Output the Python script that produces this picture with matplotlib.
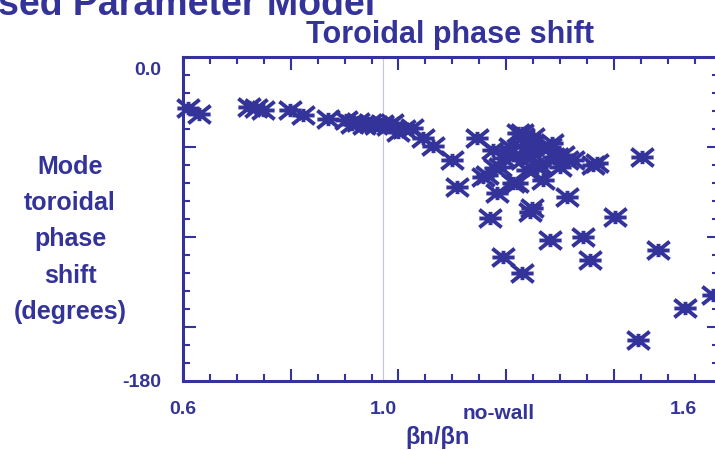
import numpy as np
import matplotlib
matplotlib.use('Agg')
import matplotlib.pyplot as plt
from matplotlib.path import Path
from matplotlib.ticker import FixedLocator, NullFormatter
import matplotlib.transforms as mtransforms

plt.rcParams['font.family'] = ['Liberation Sans Narrow', 'Liberation Sans', 'DejaVu Sans']
plt.rcParams['font.weight'] = 'bold'

# beta_n / beta_n(no-wall) and mode toroidal phase shift (deg)
beta_ratio = [0.610, 0.632, 0.732, 0.746, 0.760, 0.814, 0.840, 0.890, 0.926, 0.938,
              0.950, 0.962, 0.974, 0.986, 0.998, 1.010, 1.018, 1.030, 1.042, 1.058,
              1.080, 1.100, 1.138, 1.148, 1.188,
              1.220, 1.224, 1.200, 1.208, 1.234, 1.228, 1.240, 1.254, 1.254, 1.260,
              1.268, 1.270, 1.278, 1.278, 1.280, 1.288, 1.288, 1.294, 1.300, 1.300,
              1.308, 1.314, 1.320, 1.320, 1.334, 1.338, 1.340, 1.348, 1.354, 1.360,
              1.368, 1.368, 1.380, 1.420, 1.428,
              1.518, 1.214, 1.294, 1.298, 1.464, 1.334, 1.400, 1.414, 1.550, 1.240,
              1.278, 1.604, 1.660, 1.510]
phase_shift = [-28.3, -31.7, -27.8, -28.3, -29.4, -29.4, -32.2, -34.4, -35.0, -37.2,
               -36.1, -37.8, -36.7, -37.8, -37.2, -38.3, -36.7, -41.7, -40.0, -39.4,
               -45.0, -49.4, -57.2, -72.2, -45.0,
               -51.7, -61.7, -66.7, -65.6, -61.1, -75.6, -56.1, -50.0, -53.3, -70.0,
               -70.0, -42.2, -42.2, -57.2, -44.4, -53.3, -62.8, -47.8, -44.4, -53.3,
               -61.1, -60.0, -50.0, -68.3, -50.0, -47.8, -55.6, -55.6, -61.1, -54.4,
               -57.2, -77.8, -57.2, -60.0, -58.9,
               -55.6, -89.4, -86.1, -83.9, -88.9, -101.7, -100.0, -112.8, -107.2, -111.1,
               -120.0, -139.4, -132.2, -157.2]

x_labels = ['0.6', '1.0', '1.6']
x_label_pos = [0.6, 1.0, 1.6]

col = '#333399'

# asterisk marker: horizontal bar, two diagonals, short vertical
star = Path([(-1, 0), (1, 0), (-1, -0.8), (1, 0.8), (-1, 0.8), (1, -0.8), (0, -0.6), (0, 0.6)],
            [Path.MOVETO, Path.LINETO] * 4)

fig = plt.figure(figsize=(7.15, 4.5), dpi=100)
ax = fig.add_axes([0.256, 0.1533, 0.7497, 0.72])
ax.set_xlim(0.6, 1.672)
ax.set_ylim(-180, 0)

ax.axvline(1.0, color='#c4c4d8', lw=0.8, zorder=0)
ax.plot(beta_ratio, phase_shift, ls='none', marker=star, ms=16, mew=2.8,
        mec=col, mfc=col, clip_on=False, zorder=3)

for s in ax.spines.values():
    s.set_color(col)
    s.set_linewidth(2.2)

ax.xaxis.set_major_locator(FixedLocator(0.6 + 0.2154 * np.arange(6)))
ax.xaxis.set_minor_locator(FixedLocator(0.6 + 0.05385 * np.arange(21)))
ax.yaxis.set_major_locator(FixedLocator([-50, -100, -150]))
ax.yaxis.set_minor_locator(FixedLocator(np.arange(-170, 0, 10)))
ax.xaxis.set_major_formatter(NullFormatter())
ax.yaxis.set_major_formatter(NullFormatter())
ax.tick_params(which='both', direction='in', top=True, right=True, color=col, width=1.5)
ax.tick_params(which='major', length=9)
ax.tick_params(which='minor', length=5)

trx = mtransforms.blended_transform_factory(ax.transData, ax.transAxes)
for lab, pos in zip(x_labels, x_label_pos):
    ax.text(pos, -0.063, lab, transform=trx, ha='center', va='top',
            fontsize=14, color=col, fontweight='bold')

try_ = mtransforms.blended_transform_factory(ax.transAxes, ax.transData)
ax.text(-0.04, -3, '0.0', transform=try_, ha='right', va='top',
        fontsize=14, color=col, fontweight='bold')
ax.text(-0.04, -181, '-180', transform=try_, ha='right', va='center',
        fontsize=14, color=col, fontweight='bold')

fig.text(0.098, 0.468, 'Mode\ntoroidal\nphase\nshift\n(degrees)', ha='center', va='center',
         fontsize=18, color=col, fontweight='bold', linespacing=1.65)

fig.text(0.63, 0.922, 'Toroidal phase shift', ha='center', va='center',
         fontsize=22, color=col, fontweight='bold')
fig.text(0.524, 0.967, 'Based Parameter Model', ha='right', va='baseline',
         fontsize=27, color=col, fontweight='bold')

fig.text(0.567, 0.014, 'βn/βn', ha='left', va='baseline',
         fontsize=17, color=col, fontweight='bold')
fig.text(0.647, 0.068, 'no-wall', ha='left', va='baseline',
         fontsize=15, color=col, fontweight='bold')

fig.savefig('out.png', dpi=100)
